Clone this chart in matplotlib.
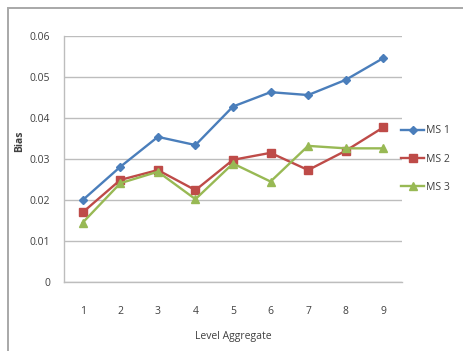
import matplotlib
matplotlib.use("Agg")
import matplotlib.pyplot as plt
from matplotlib.patches import Rectangle

levels = [1, 2, 3, 4, 5, 6, 7, 8, 9]
ms1 = [0.0200, 0.0281, 0.0354, 0.0334, 0.0428, 0.0463, 0.0456, 0.0493, 0.0546]
ms2 = [0.0170, 0.0249, 0.0273, 0.0224, 0.0298, 0.0315, 0.0273, 0.0320, 0.0377]
ms3 = [0.0145, 0.0241, 0.0269, 0.0202, 0.0289, 0.0245, 0.0332, 0.0326, 0.0326]
series_names = ["MS 1", "MS 2", "MS 3"]
y_ticks = [0, 0.01, 0.02, 0.03, 0.04, 0.05, 0.06]
y_tick_labels = ["0", "0.01", "0.02", "0.03", "0.04", "0.05", "0.06"]

plt.rcParams["font.family"] = ["Open Sans", "DejaVu Sans"]
W, H = 463, 351
fig = plt.figure(figsize=(W / 100, H / 100), dpi=100)
fig.patch.set_facecolor("white")

# outer chart frame (left and top edges visible)
fig.patches.append(Rectangle((8 / W, -0.1), 1.2, (H - 8) / H + 0.1,
                             transform=fig.transFigure, fill=False,
                             edgecolor="#a8a8a8", linewidth=1.4))

ax = fig.add_axes([64 / W, 1 - 282 / H, (402 - 64) / W, (282 - 36) / H])

styles = [
    (ms1, "#4a7ebb", "D", 4.5),
    (ms2, "#be4b48", "s", 6.0),
    (ms3, "#98b954", "^", 6.0),
]
for (vals, col, mk, ms), name in zip(styles, series_names):
    ax.plot(levels, vals, color=col, marker=mk, markersize=ms, linewidth=1.7,
            markeredgecolor=col, label=name, clip_on=False, zorder=3)

ax.set_xlim(0.5, 9.5)
ax.set_ylim(0, 0.06)
ax.set_yticks(y_ticks)
ax.set_yticklabels(y_tick_labels)
ax.set_xticks(levels)
ax.set_xticklabels([str(v) for v in levels])
ax.tick_params(axis="both", length=0, labelsize=7.5, colors="#404040")
ax.tick_params(axis="y", pad=10)
ax.tick_params(axis="x", pad=17)
ax.grid(axis="y", color="#bdbdbd", linewidth=1.0)
ax.set_axisbelow(True)
for s in ["top", "right"]:
    ax.spines[s].set_visible(False)
for s in ["left", "bottom"]:
    ax.spines[s].set_color("#bdbdbd")
    ax.spines[s].set_linewidth(1.0)

ax.set_xlabel("Level Aggregate", fontsize=7.5, color="#404040", labelpad=10)
fig.text(20 / W, 1 - 141 / H, "Bias", rotation=90, fontsize=7.5,
         fontweight="bold", color="#404040", ha="center", va="center")

leg = ax.legend(loc="center left", bbox_to_anchor=(0.998, 0.5), frameon=False,
                fontsize=7.5, handlelength=2.2, handletextpad=0.2,
                labelspacing=1.65, borderaxespad=0, borderpad=0)
for t in leg.get_texts():
    t.set_color("#404040")

fig.savefig("out.png", dpi=100, facecolor="white")
